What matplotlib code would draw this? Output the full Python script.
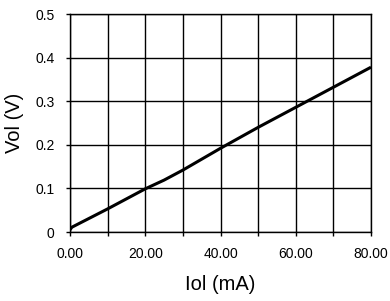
import matplotlib
matplotlib.use("Agg")
import matplotlib.pyplot as plt
import numpy as np

plt.rcParams['font.family'] = ['Liberation Sans', 'DejaVu Sans']

iol = [0, 0.5, 10, 20, 25, 30, 40, 50, 60, 70, 80]
vol = [0.005, 0.011, 0.053, 0.099, 0.119, 0.142, 0.192, 0.240, 0.286, 0.332, 0.378]

xticks = [0, 20, 40, 60, 80]
xticklabels = ["0.00", "20.00", "40.00", "60.00", "80.00"]
yticks = [0, 0.1, 0.2, 0.3, 0.4, 0.5]
yticklabels = ["0", "0.1", "0.2", "0.3", "0.4", "0.5"]

fig = plt.figure(figsize=(3.9, 3.01), dpi=100)
ax = fig.add_axes([70/390, 1-232/301, (371-70)/390, (232-14)/301])
ax.plot(iol, vol, color='black', lw=2.2, solid_capstyle='butt', zorder=3)
ax.set_xlim(0, 80)
ax.set_ylim(0, 0.5)
ax.set_xticks(xticks)
ax.set_xticklabels(xticklabels)
ax.set_xticks(np.arange(0, 81, 10), minor=True)
ax.set_yticks(yticks)
ax.set_yticklabels(yticklabels)
ax.grid(True, which='both', color='black', lw=1.0)
for s in ax.spines.values():
    s.set_linewidth(1.0)
ax.tick_params(which='both', direction='out', length=3, width=1.0, labelsize=10, pad=8)
ax.set_xlabel("Iol (mA)", fontsize=14.5, va='center')
ax.set_ylabel("Vol (V)", fontsize=14.5, va='center')
ax.xaxis.set_label_coords(0.5, (232-285)/218)
ax.yaxis.set_label_coords((15-70)/301, 0.5)
fig.savefig("out.png", dpi=100)
